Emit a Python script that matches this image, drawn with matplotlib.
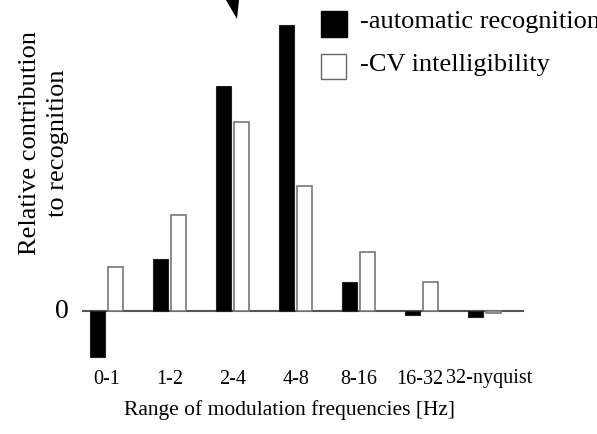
import matplotlib
matplotlib.use("Agg")
import matplotlib.pyplot as plt
from matplotlib.patches import Rectangle, Polygon
import matplotlib.transforms as mtransforms
import numpy as np

categories = ["0-1", "1-2", "2-4", "4-8", "8-16", "16-32", "32-nyquist"]
automatic = [-0.46, 0.52, 2.25, 2.86, 0.29, -0.04, -0.06]
cv_intell = [0.44, 0.96, 1.89, 1.25, 0.59, 0.29, -0.02]

plt.rcParams["font.family"] = ["Liberation Serif", "DejaVu Serif"]

W, H = 597, 434
fig = plt.figure(figsize=(W / 100, H / 100), dpi=100)

def fx(px):
    return px / W

def fy(py):
    return 1 - py / H

# axes spans the baseline extent horizontally
ax_left, ax_right = 82, 524
ax_top, ax_bot = 0, 370
ax = fig.add_axes([fx(ax_left), fy(ax_bot), fx(ax_right - ax_left), (ax_bot - ax_top) / H])

x = np.arange(len(categories))
width = 0.238
off = 0.143
ax.bar(x - off, automatic, width, color="black", edgecolor="#222222", linewidth=0.8)
ax.bar(x + off, cv_intell, width, color="white", edgecolor="#777777", linewidth=1.2)
ax.axhline(0, color="#555555", linewidth=1.5, zorder=0)

ax.set_xlim(-0.389, 6.619)
ax.set_ylim((311 - ax_bot) / 100, (311 - ax_top) / 100)
for s in ax.spines.values():
    s.set_visible(False)
ax.set_yticks([])
ax.set_xticks([])

# category labels, nudged slightly so the long last one has room
nudge = [0, 0, 0, 0, 0, -0.03, 0.06]
trans = mtransforms.blended_transform_factory(ax.transData, fig.transFigure)
for xi, lab, n in zip(x, categories, nudge):
    ax.text(xi + n, fy(379), lab, transform=trans, fontsize=14.5,
            ha="center", va="center")

fig.text(fx(289), fy(410), "Range of modulation frequencies [Hz]", fontsize=15.5,
         ha="center", va="center")

fig.text(fx(62), fy(311), "0", fontsize=20, ha="center", va="center")
fig.text(fx(44), fy(143), "Relative contribution\nto recognition", fontsize=19,
         rotation=90, ha="center", va="center", multialignment="center", linespacing=1.35)

# legend
fig.add_artist(Rectangle((fx(321), fy(37)), fx(26), 26 / H, transform=fig.transFigure,
                         facecolor="black", edgecolor="black"))
fig.add_artist(Rectangle((fx(321), fy(79)), fx(25), 25 / H, transform=fig.transFigure,
                         facecolor="white", edgecolor="#666666", linewidth=1.0))
fig.text(fx(360), fy(22), "-automatic recognition", fontsize=19, ha="left", va="center")
fig.text(fx(360), fy(65), "-CV intelligibility", fontsize=19, ha="left", va="center")

# wedge at the top edge
fig.add_artist(Polygon([(fx(226), fy(0)), (fx(239), fy(0)), (fx(237), fy(19))],
                       closed=True, transform=fig.transFigure, facecolor="black", edgecolor="none"))

fig.savefig("out.png", dpi=100)
